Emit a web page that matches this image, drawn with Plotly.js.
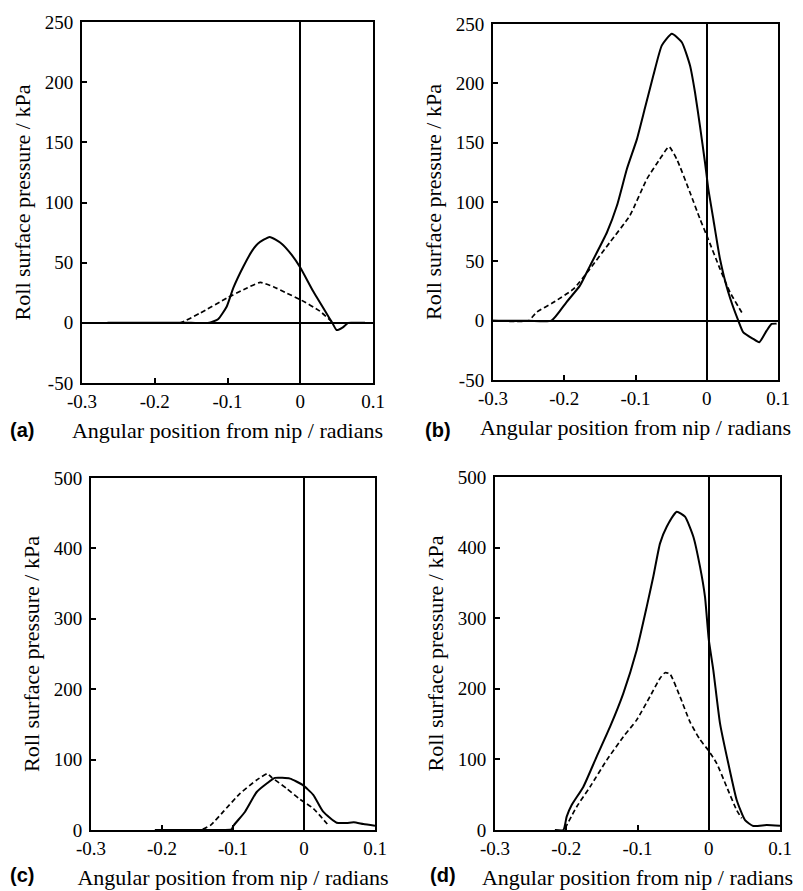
<!DOCTYPE html>
<html>
<head>
<meta charset="utf-8">
<script src="https://cdn.plot.ly/plotly-3.0.1.min.js"></script>
<style>html,body{margin:0;padding:0;background:#fff;}#chart{width:803px;height:891px;}</style>
</head>
<body>
<div id="chart"></div>
<script>
// ---- Data ----
var xTickVals = [-0.3, -0.2, -0.1, 0, 0.1];
var xTickText = ['-0.3', '-0.2', '-0.1', '0', '0.1'];
var yTickValsAB = [-50, 0, 50, 100, 150, 200, 250];
var yTickValsCD = [0, 100, 200, 300, 400, 500];
var panelLabels = ['(a)', '(b)', '(c)', '(d)'];
var xTitle = 'Angular position from nip / radians';
var yTitle = 'Roll surface pressure / kPa';

// Panel (a)
var aSolidX = [-0.265, -0.24, -0.21, -0.18, -0.15, -0.125, -0.113, -0.101, -0.092, -0.078, -0.066, -0.058, -0.042, -0.026, -0.012, 0.0, 0.018, 0.036, 0.044, 0.050, 0.058, 0.066, 0.078, 0.089];
var aSolidY = [0, 0, 0, 0, 0, 0, 3, 13.6, 29, 47, 60, 66, 71.4, 66, 56.7, 46, 26, 8, 0, -6, -4, 0, 0, 0];
var aDashX = [-0.265, -0.24, -0.21, -0.19, -0.165, -0.138, -0.101, -0.078, -0.055, -0.037, -0.018, 0.001, 0.027, 0.045];
var aDashY = [0, 0, 0, 0, 0, 8, 20.5, 27.5, 33.6, 30, 24.5, 19, 9.7, 0];

// Panel (b)
var bSolidX = [-0.3, -0.25, -0.218, -0.197, -0.178, -0.164, -0.14, -0.126, -0.112, -0.098, -0.087, -0.075, -0.063, -0.049, -0.035, -0.0235, -0.0165, -0.0095, -0.0025, 0.0022, 0.0092, 0.0186, 0.0302, 0.0443, 0.0513, 0.0653, 0.0737, 0.0841, 0.0911, 0.098];
var bSolidY = [0, 0, 0, 15.5, 29.5, 46, 74.5, 97, 128, 153, 178.5, 206.5, 232, 241.8, 234.6, 215, 192.5, 164, 133.5, 111, 85.7, 52, 24, 0, -9.8, -15.4, -18.2, -8.4, -2.8, -2.5];
var bDashX = [-0.3, -0.25, -0.239, -0.215, -0.187, -0.164, -0.136, -0.108, -0.084, -0.066, -0.053, -0.042, -0.0235, -0.0095, 0.002, 0.0186, 0.0326, 0.0513];
var bDashY = [0, 0, 7, 15.5, 26.7, 43.6, 66, 88.5, 119.4, 136, 146.6, 136, 108, 85.7, 68.8, 43.6, 24, 4.8];

// Panel (c)
var cSolidX = [-0.21, -0.18, -0.15, -0.12, -0.102, -0.0996, -0.083, -0.0666, -0.0525, -0.041, -0.0197, -0.002, 0.013, 0.027, 0.046, 0.06, 0.07, 0.0835, 0.1];
var cSolidY = [0, 0, 0, 0, 1, 5.7, 26, 54, 66, 74, 73, 64, 50, 26, 10.3, 10, 11, 8.5, 6];
var cDashX = [-0.21, -0.19, -0.165, -0.145, -0.1314, -0.1137, -0.09, -0.0666, -0.0517, -0.0455, -0.0244, -0.0056, 0.013, 0.0328];
var cDashY = [0, 0, 0, 0, 7, 26, 52, 71, 80, 74.6, 59, 43.5, 30.7, 8.5];

// Panel (d)
var dSolidX = [-0.216, -0.204, -0.1994, -0.1924, -0.1761, -0.1573, -0.1386, -0.1199, -0.1011, -0.0871, -0.0778, -0.0684, -0.059, -0.045, -0.0333, -0.0216, -0.0123, -0.0053, 0.0, 0.0064, 0.0158, 0.0274, 0.0392, 0.0509, 0.0625, 0.0813, 0.1];
var dSolidY = [0, 0, 19, 35.4, 61, 104, 146, 193.6, 255, 316, 359, 406, 429.6, 450.9, 443.8, 415.4, 373, 330.5, 270, 226.6, 151, 94.5, 42.5, 14, 5.7, 7, 6];
var dDashX = [-0.2018, -0.1853, -0.1667, -0.1432, -0.1199, -0.1011, -0.0825, -0.0684, -0.0614, -0.0544, -0.0404, -0.0263, -0.0123, -0.0006, 0.0111, 0.0252, 0.0392, 0.0462];
var dDashY = [2, 33, 61, 99, 132, 156, 189, 215, 222.8, 221, 189, 153, 128, 113, 94.5, 61, 28, 16.6];

// ---- Build ----
var W = 803, H = 891;
var F = 'Liberation Serif';
var solidLine = {color: 'black', width: 2, shape: 'spline', smoothing: 0.5};
var dashLine = {color: 'black', width: 1.7, dash: '5px,3px', shape: 'spline', smoothing: 0.5};

function mk(x, y, line, sfx) {
  return {x: x, y: y, type: 'scatter', mode: 'lines', line: line,
          xaxis: 'x' + sfx, yaxis: 'y' + sfx, hoverinfo: 'skip', showlegend: false};
}
var data = [
  mk(aSolidX, aSolidY, solidLine, ''), mk(aDashX, aDashY, dashLine, ''),
  mk(bSolidX, bSolidY, solidLine, '2'), mk(bDashX, bDashY, dashLine, '2'),
  mk(cSolidX, cSolidY, solidLine, '3'), mk(cDashX, cDashY, dashLine, '3'),
  mk(dSolidX, dSolidY, solidLine, '4'), mk(dDashX, dDashY, dashLine, '4')
];

// pixel boxes [left, right, top, bottom]
var boxes = [[82, 373, 22, 383], [493, 778, 24, 380], [91, 375, 478, 830], [495, 780, 477, 830]];
var labelPos = [[22, 430], [438, 430], [22, 875], [443, 875]];

var layout = {width: W, height: H, margin: {l: 0, r: 0, t: 0, b: 0}, showlegend: false, annotations: []};

for (var i = 0; i < 4; i++) {
  var b = boxes[i];
  var sfx = i === 0 ? '' : String(i + 1);
  var xa = {domain: [b[0] / W, b[1] / W], range: [-0.3, 0.1], anchor: 'y' + sfx,
    tickmode: 'array', tickvals: xTickVals, ticktext: xTickText,
    tickfont: {family: F, size: 19, color: 'black'},
    title: {text: xTitle, font: {family: F, size: 22, color: 'black'}, standoff: 12}};
  var yv = i < 2 ? yTickValsAB : yTickValsCD;
  var ya = {domain: [1 - b[3] / H, 1 - b[2] / H], range: i < 2 ? [-50, 250] : [0, 500], anchor: 'x' + sfx,
    tickmode: 'array', tickvals: yv, ticktext: yv.map(function (v) { return String(v); }),
    tickfont: {family: F, size: 19, color: 'black'}, ticklabelstandoff: 3,
    title: {text: yTitle, font: {family: F, size: 22, color: 'black'}, standoff: 8}};
  [xa, ya].forEach(function (a) {
    a.showline = true; a.linecolor = 'black'; a.linewidth = 2; a.mirror = true;
    a.ticks = 'inside'; a.ticklen = 5; a.tickwidth = 1.5; a.tickcolor = 'black';
    a.showgrid = false; a.zeroline = true; a.zerolinecolor = 'black'; a.zerolinewidth = 1.8;
  });
  layout['xaxis' + sfx] = xa;
  layout['yaxis' + sfx] = ya;
  layout.annotations.push({
    text: '<b>' + panelLabels[i] + '</b>', xref: 'paper', yref: 'paper',
    x: labelPos[i][0] / W, y: 1 - labelPos[i][1] / H, xanchor: 'center', yanchor: 'middle',
    showarrow: false, font: {family: 'Liberation Sans', size: 20, color: 'black'}
  });
}

Plotly.newPlot('chart', data, layout, {displayModeBar: false});
</script>
</body>
</html>
